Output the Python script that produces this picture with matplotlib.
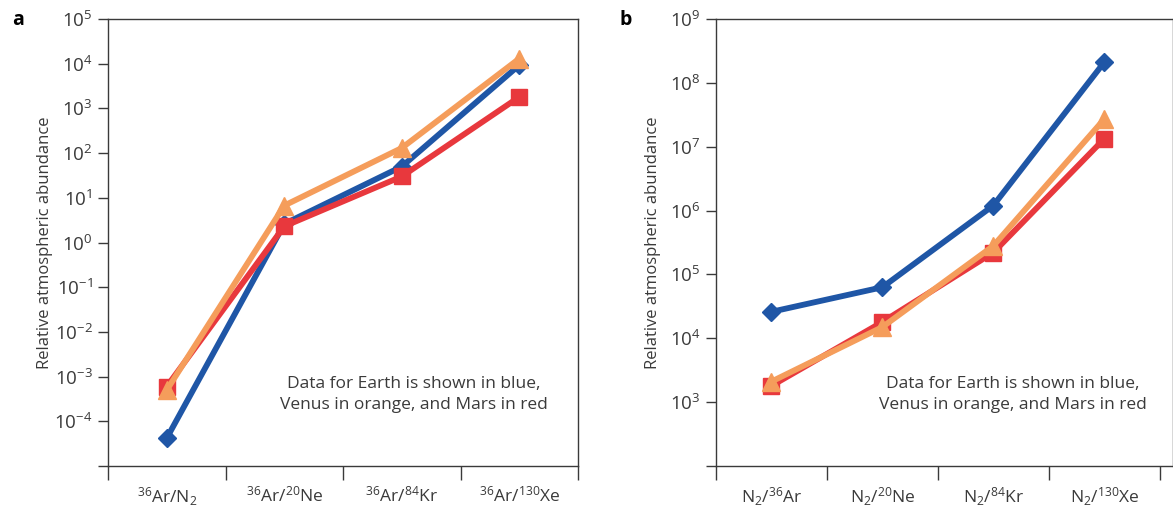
import matplotlib
matplotlib.use("Agg")
import matplotlib.pyplot as plt
import numpy as np

plt.rcParams['font.family'] = ['Open Sans', 'DejaVu Sans']
plt.rcParams['mathtext.default'] = 'regular'

# panel a data
cats_a = [r'$^{36}$Ar/N$_2$', r'$^{36}$Ar/$^{20}$Ne', r'$^{36}$Ar/$^{84}$Kr', r'$^{36}$Ar/$^{130}$Xe']
earth_a = [4.2e-5, 2.6, 50, 9300]
mars_a = [6.0e-4, 2.3, 30, 1800]
venus_a = [5.0e-4, 6.7, 130, 13000]

# panel b data
cats_b = [r'N$_2$/$^{36}$Ar', r'N$_2$/$^{20}$Ne', r'N$_2$/$^{84}$Kr', r'N$_2$/$^{130}$Xe']
earth_b = [2.6e4, 6.3e4, 1.2e6, 2.1e8]
mars_b = [1.8e3, 1.8e4, 2.2e5, 1.33e7]
venus_b = [2.1e3, 1.5e4, 2.8e5, 2.7e7]

blue = '#1f56a6'
red = '#e8383d'
orange = '#f59d5b'
grey = '#3a3a3a'

fig = plt.figure(figsize=(11.73, 5.08), dpi=100)
W, H = 1173, 508
ax_a = fig.add_axes([108/W, 1-466/H, (578-108)/W, (466-19)/H])
ax_b = fig.add_axes([716/W, 1-466/H, (1173-716)/W, (466-19)/H])


def draw(ax, cats, earth, venus, mars, exps, xmax, width_px):
    x = np.arange(len(cats)) + 0.5
    ax.plot(x, earth, color=blue, lw=4.2, marker='D', ms=9, zorder=3)
    ax.plot(x, mars, color=red, lw=4.2, marker='s', ms=12, zorder=4)
    ax.plot(x, venus, color=orange, lw=4.2, marker='^', ms=12.5, zorder=5)
    ax.set_yscale('log')
    ax.set_ylim(10.0**exps[0], 10.0**exps[-1])
    ax.set_xlim(0, xmax)
    ticks = [10.0**e for e in exps]
    ax.set_yticks(ticks)
    ax.set_yticklabels([''] + [r'$10^{%d}$' % e for e in exps[1:]])
    ax.yaxis.set_minor_locator(matplotlib.ticker.NullLocator())
    ax.set_xticks(np.arange(5))
    ax.set_xticklabels([])
    ax.set_xticks(x, minor=True)
    ax.set_xticklabels(cats, minor=True)
    ax.tick_params(axis='x', which='major', length=10, width=1, color=grey, direction='out')
    ax.tick_params(axis='x', which='minor', length=0, pad=14, labelsize=12.5, labelcolor=grey)
    ax.tick_params(axis='y', length=7, width=1, color=grey, labelsize=13.5, labelcolor=grey, pad=4)
    for s in ax.spines.values():
        s.set_color(grey)
        s.set_linewidth(1)
    ax.set_ylabel('Relative atmospheric abundance', fontsize=12, color=grey)
    ax.yaxis.set_label_coords(-55/width_px, 0.5)
    ax.text(0.65, 0.16, 'Data for Earth is shown in blue,\nVenus in orange, and Mars in red',
            transform=ax.transAxes, ha='center', va='center', fontsize=12.5,
            color=grey, linespacing=1.45)


draw(ax_a, cats_a, earth_a, venus_a, mars_a, list(range(-5, 6)), 4, 470)
draw(ax_b, cats_b, earth_b, venus_b, mars_b, list(range(2, 10)), 4.12, 457)

fig.text(12/W, 1-20/H, 'a', fontsize=14, fontweight='bold', va='center', ha='left')
fig.text(619/W, 1-20/H, 'b', fontsize=14, fontweight='bold', va='center', ha='left')

fig.savefig('out.png', dpi=100)
